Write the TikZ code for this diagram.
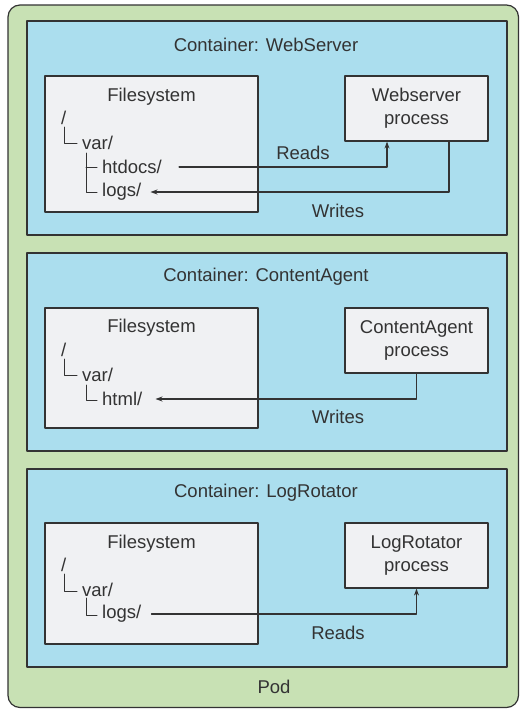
\documentclass[tikz,border=0pt]{standalone}
\usepackage{fontspec}
\setmainfont{Liberation Sans}
\usetikzlibrary{arrows.meta}
\definecolor{podgreen}{HTML}{C8E1B4}
\definecolor{boxblue}{HTML}{ABDEEE}
\definecolor{fsgray}{HTML}{F0F1F3}
\definecolor{inkgray}{HTML}{333333}
\begin{document}
\begin{tikzpicture}[x=1pt, y=-1pt, line cap=round, line join=round, font=\fontsize{18.5}{23}\selectfont, color=inkgray,
		pod/.style={draw=inkgray, fill=podgreen, line width=1.2pt, rounded corners=12pt},
		container/.style={draw=inkgray, fill=boxblue, line width=1.2pt},
		fsbox/.style={draw=inkgray, fill=fsgray, line width=1.2pt},
		proc/.style={draw=inkgray, fill=fsgray, line width=1.2pt, align=center, minimum width=143pt, inner sep=0pt},
		entry/.style={anchor=west, inner sep=0pt},
		tree/.style={line width=1pt},
		flow/.style={line width=1.1pt, -{Stealth[length=7pt, width=5pt]}}]
	\useasboundingbox (0,0) rectangle (520,710);
	% pod and containers
	\draw[pod] (8,5) rectangle (518.5,707.5);
	\node (podlabel) at (274,687) {Pod};
	\draw[container] (27,21) rectangle (507,235);
	\draw[container] (27,253) rectangle (507,451);
	\draw[container] (27,469) rectangle (507,667);
	\node (webtitle) at (266,45) {Container: WebServer};
	\node (agenttitle) at (266,277) {Container: ContentAgent};
	\node (rotatortitle) at (266,493) {Container: LogRotator};

	% container: WebServer
	\draw[fsbox] (45,76) rectangle (258,212);
	\node (webfs) at (151.5,97) {Filesystem};
	\node[entry] (webroot) at (61,118) {/};
	\node[entry] (webvar) at (82,143) {var/};
	\node[entry] (htdocs) at (102,167) {htdocs/};
	\node[entry] (weblogs) at (102,192) {logs/};
	\draw[tree] (64,127) |- (77,143);
	\draw[tree] (86,153) |- (97,192) (86,167) -- (97,167);
	\node[proc, minimum height=65pt] (webproc) at (416.5,108.5) {Webserver\\process};
	\draw[flow] ([xshift=17pt]htdocs.east) -| ([xshift=-29.5pt]webproc.south);
	\draw[flow] ([xshift=32.5pt]webproc.south) |- ([xshift=9pt]weblogs.east);
	\node (webreads) at (303,153) {Reads};
	\node (webwrites) at (338,211) {Writes};

	% container: ContentAgent
	\draw[fsbox] (45,308) rectangle (258,428);
	\node (agentfs) at (151.5,328) {Filesystem};
	\node[entry] (agentroot) at (61,350) {/};
	\node[entry] (agentvar) at (82,375) {var/};
	\node[entry] (html) at (102,399) {html/};
	\draw[tree] (64,359) |- (77,375);
	\draw[tree] (86,385) |- (97,400);
	\node[proc, minimum height=65pt] (agentproc) at (416.5,340.5) {ContentAgent\\process};
	\draw[flow] (agentproc.south) |- ([xshift=13pt]html.east);
	\node (agentwrites) at (338,417) {Writes};

	% container: LogRotator
	\draw[fsbox] (45,523) rectangle (258,644);
	\node (rotatorfs) at (151.5,544) {Filesystem};
	\node[entry] (rotatorroot) at (61,565) {/};
	\node[entry] (rotatorvar) at (82,590) {var/};
	\node[entry] (rotatorlogs) at (102,614) {logs/};
	\draw[tree] (64,574) |- (77,591);
	\draw[tree] (86,598) |- (97,615);
	\node[proc, minimum height=65pt] (rotatorproc) at (416.5,555.5) {LogRotator\\process};
	\draw[flow] ([xshift=10pt]rotatorlogs.east) -| (rotatorproc.south);
	\node (rotatorreads) at (338,633) {Reads};
\end{tikzpicture}
\end{document}
